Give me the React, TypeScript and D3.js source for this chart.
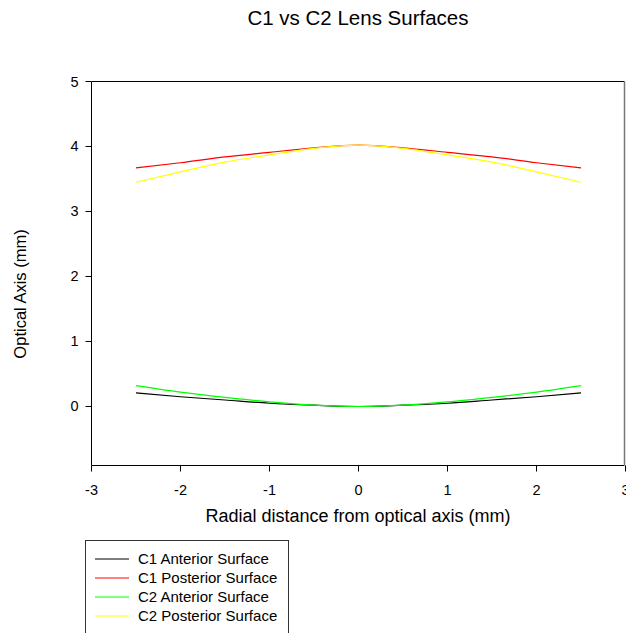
import React from "react";
import * as d3 from "d3";

const radialX = [-2.5, -2, -1.5, -1, -0.5, 0, 0.5, 1, 1.5, 2, 2.5];
const c1Anterior = [0.21, 0.15, 0.1, 0.05, 0.02, 0, 0.02, 0.05, 0.1, 0.15, 0.21];
const c1Posterior = [3.67, 3.75, 3.84, 3.91, 3.98, 4.02, 3.98, 3.91, 3.84, 3.75, 3.67];
const c2Anterior = [0.32, 0.22, 0.14, 0.07, 0.02, 0, 0.02, 0.07, 0.14, 0.22, 0.32];
const c2Posterior = [3.45, 3.61, 3.76, 3.87, 3.97, 4.02, 3.97, 3.87, 3.76, 3.61, 3.45];
const seriesNames = ["C1 Anterior Surface", "C1 Posterior Surface", "C2 Anterior Surface", "C2 Posterior Surface"];
const seriesColors = ["#000000", "#ff0000", "#00ff00", "#ffff00"];
const xTicks = [-3, -2, -1, 0, 1, 2, 3];
const yTicks = [0, 1, 2, 3, 4, 5];

const W = 626;
const H = 633;
const left = 91.5;
const right = 625.5;
const top = 81.5;
const bottom = 465.5;

export default function App() {
  const x = d3.scaleLinear().domain([-3, 3]).range([left, right]);
  const y = d3.scaleLinear().domain([-0.908, 5]).range([bottom, top]);
  const allSeries = [c1Anterior, c1Posterior, c2Anterior, c2Posterior];
  const line = d3
    .line<number>()
    .x((_, i) => x(radialX[i]))
    .y((d) => y(d))
    .curve(d3.curveMonotoneX);
  const font = "'Liberation Sans', Arial, sans-serif";
  return (
    <svg
      width={W}
      height={H}
      style={{ position: "absolute", left: 0, top: 0, background: "#fff" }}
      fontFamily={font}
    >
      <rect x={0} y={0} width={W} height={H} fill="#fff" />
      <text x={358} y={25} textAnchor="middle" fontSize={20.5} fill="#000">
        C1 vs C2 Lens Surfaces
      </text>
      {allSeries.map((s, k) => (
        <path key={k} d={line(s) || ""} fill="none" stroke={seriesColors[k]} strokeWidth={1.2} />
      ))}
      {/* frame */}
      <line x1={left} x2={right - 1} y1={top} y2={top} stroke="#000" strokeWidth={1} />
      <line x1={left} x2={left} y1={top} y2={bottom} stroke="#000" strokeWidth={1} />
      <line x1={left} x2={right - 1} y1={bottom} y2={bottom} stroke="#000" strokeWidth={1} />
      <line x1={right - 1} x2={right - 1} y1={top} y2={bottom} stroke="#777" strokeWidth={1.5} />
      {yTicks.map((t) => (
        <g key={"y" + t}>
          <line x1={left - 6} x2={left} y1={y(t)} y2={y(t)} stroke="#000" />
          <text x={left - 13} y={y(t) + 5} textAnchor="end" fontSize={14.5} fill="#000">
            {t}
          </text>
        </g>
      ))}
      {xTicks.map((t) => (
        <g key={"x" + t}>
          <line x1={x(t)} x2={x(t)} y1={bottom} y2={bottom + 6} stroke="#000" />
          <text x={x(t)} y={bottom + 29} textAnchor="middle" fontSize={14.5} fill="#000">
            {t < 0 ? "-" + Math.abs(t) : t}
          </text>
        </g>
      ))}
      <text x={358} y={522} textAnchor="middle" fontSize={18} fill="#000">
        Radial distance from optical axis (mm)
      </text>
      <text
        transform={`translate(26, 294) rotate(-90)`}
        textAnchor="middle"
        fontSize={16.5}
        fill="#000"
      >
        Optical Axis (mm)
      </text>
      {/* legend */}
      <rect x={85.5} y={540.5} width={203} height={110} fill="none" stroke="#333" strokeWidth={1} />
      {seriesNames.map((n, k) => (
        <g key={n}>
          <line x1={95} x2={129} y1={559 + k * 19} y2={559 + k * 19} stroke={seriesColors[k]} strokeWidth={1} />
          <text x={138} y={559 + k * 19 + 5} fontSize={15} fill="#000">
            {n}
          </text>
        </g>
      ))}
    </svg>
  );
}
